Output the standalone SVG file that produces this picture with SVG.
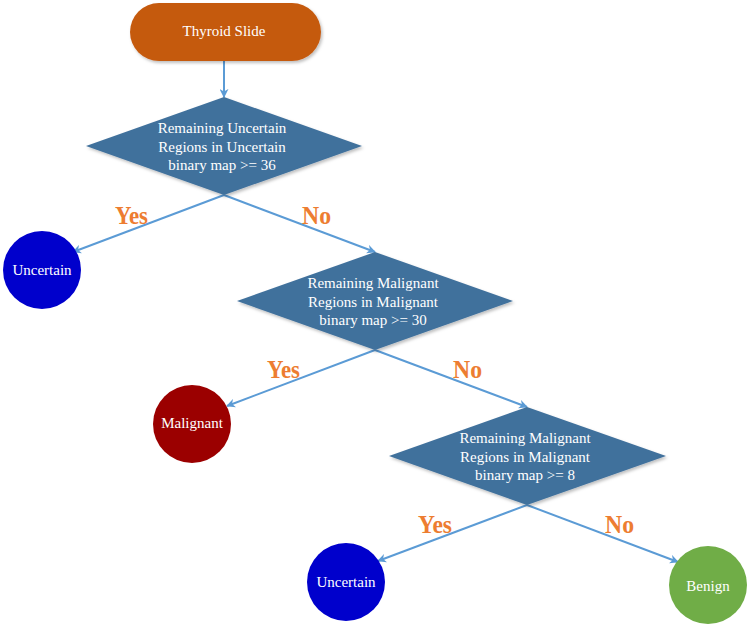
<svg xmlns="http://www.w3.org/2000/svg" width="750" height="627" viewBox="0 0 750 627">
<defs>
<marker id="ah" viewBox="0 0 10 10" refX="9" refY="5" markerWidth="4.5" markerHeight="4.5" orient="auto" markerUnits="strokeWidth">
<path d="M0,0 L10,5 L0,10 L3,5 z" fill="#5B9BD5"/>
</marker>
<filter id="sh" x="-10%" y="-10%" width="120%" height="130%">
<feDropShadow dx="1.5" dy="2" stdDeviation="1.5" flood-color="#000" flood-opacity="0.25"/>
</filter>
</defs>
<style>
.t{font-family:"Liberation Serif","Times New Roman",serif;font-size:15px;fill:#fff;text-anchor:middle}
.lbl{font-family:"Liberation Serif","Times New Roman",serif;font-size:26px;font-weight:bold;fill:#ED7D31}
.dia{fill:#41719C;filter:url(#sh)}
.cn{stroke:#5B9BD5;stroke-width:2;fill:none;marker-end:url(#ah)}
</style>
<rect width="750" height="627" fill="#fff"/>
<g id="connectors">
<line class="cn" x1="224" y1="61" x2="224" y2="97"/>
<line class="cn" x1="224" y1="195" x2="73" y2="252"/>
<line class="cn" x1="224" y1="195" x2="375" y2="252"/>
<line class="cn" x1="375" y1="350" x2="227" y2="406"/>
<line class="cn" x1="375" y1="350" x2="527" y2="407"/>
<line class="cn" x1="527" y1="505" x2="378" y2="561"/>
<line class="cn" x1="527" y1="505" x2="678" y2="562"/>
</g>
<g id="labels">
<text class="lbl" x="115" y="224" textLength="33" lengthAdjust="spacingAndGlyphs">Yes</text>
<text class="lbl" x="302" y="224" textLength="29" lengthAdjust="spacingAndGlyphs">No</text>
<text class="lbl" x="267" y="378" textLength="33" lengthAdjust="spacingAndGlyphs">Yes</text>
<text class="lbl" x="453" y="378" textLength="29" lengthAdjust="spacingAndGlyphs">No</text>
<text class="lbl" x="418" y="533" textLength="34" lengthAdjust="spacingAndGlyphs">Yes</text>
<text class="lbl" x="605" y="533" textLength="29" lengthAdjust="spacingAndGlyphs">No</text>
</g>
<g id="start">
<rect x="130" y="3" width="191" height="58" rx="29" ry="29" fill="#C55A11" filter="url(#sh)"/>
<text class="t" x="224" y="36">Thyroid Slide</text>
</g>
<g id="decision1">
<polygon class="dia" points="224,97 362,146 224,195 86,146"/>
<text class="t" x="222" y="133">Remaining Uncertain</text>
<text class="t" x="222" y="151.5">Regions in Uncertain</text>
<text class="t" x="222" y="170">binary map &gt;= 36</text>
</g>
<g id="uncertain1">
<circle cx="42" cy="270" r="39" fill="#0000CC"/>
<text class="t" x="42" y="275">Uncertain</text>
</g>
<g id="decision2">
<polygon class="dia" points="375,252 513,301 375,350 237,301"/>
<text class="t" x="373" y="288">Remaining Malignant</text>
<text class="t" x="373" y="306.5">Regions in Malignant</text>
<text class="t" x="373" y="324.5">binary map &gt;= 30</text>
</g>
<g id="malignant">
<circle cx="192" cy="424" r="39" fill="#9B0000"/>
<text class="t" x="192" y="428">Malignant</text>
</g>
<g id="decision3">
<polygon class="dia" points="527,407 666,456 527,505 389,456"/>
<text class="t" x="525" y="443">Remaining Malignant</text>
<text class="t" x="525" y="461.5">Regions in Malignant</text>
<text class="t" x="525" y="479.5">binary map &gt;= 8</text>
</g>
<g id="uncertain2">
<circle cx="346" cy="582" r="39" fill="#0000CC"/>
<text class="t" x="346" y="587">Uncertain</text>
</g>
<g id="benign">
<circle cx="708" cy="585" r="39" fill="#70AD47"/>
<text class="t" x="708" y="591">Benign</text>
</g>
</svg>
